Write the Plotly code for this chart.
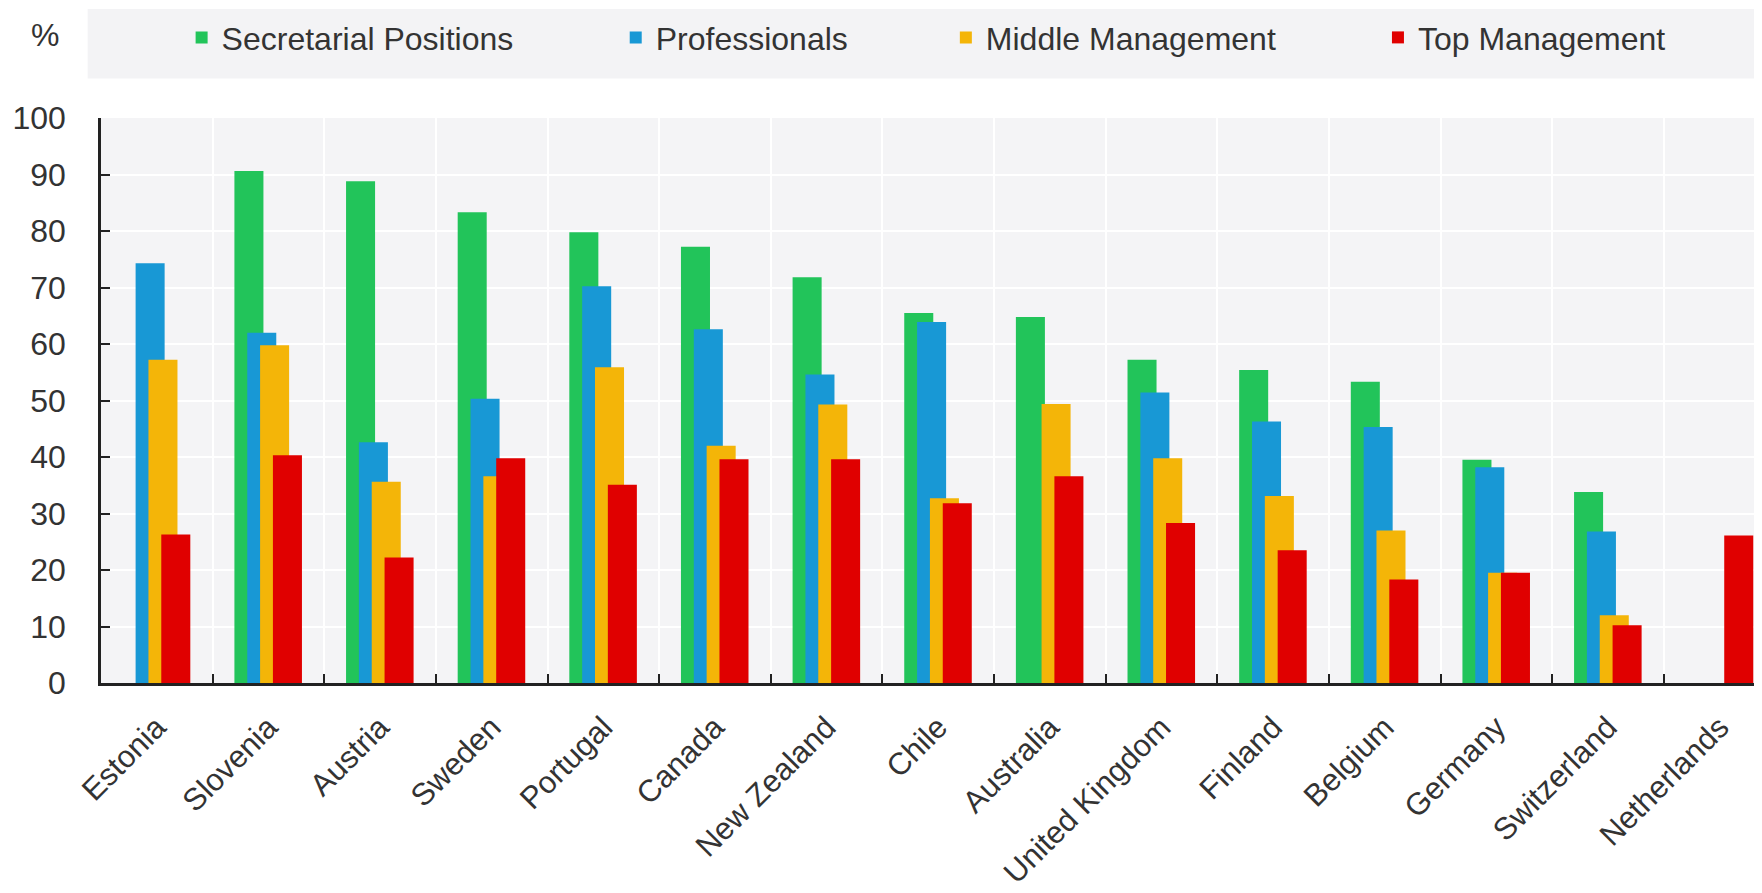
import plotly.graph_objects as go

countries = ["Estonia", "Slovenia", "Austria", "Sweden", "Portugal", "Canada",
             "New Zealand", "Chile", "Australia", "United Kingdom", "Finland",
             "Belgium", "Germany", "Switzerland", "Netherlands"]

secretarial = [None, 90.6, 88.8, 83.3, 79.8, 77.2, 71.8, 65.5, 64.8, 57.2, 55.4, 53.3, 39.5, 33.8, None]
professionals = [74.3, 62.0, 42.6, 50.3, 70.2, 62.6, 54.6, 63.9, None, 51.4, 46.3, 45.3, 38.2, 26.8, None]
middle_mgmt = [57.2, 59.8, 35.6, 36.6, 55.9, 42.0, 49.3, 32.7, 49.4, 39.8, 33.1, 27.0, 19.5, 12.0, None]
top_mgmt = [26.3, 40.3, 22.2, 39.8, 35.1, 39.6, 39.6, 31.8, 36.6, 28.3, 23.5, 18.3, 19.5, 10.2, 26.1]

series_names = ["Secretarial Positions", "Professionals", "Middle Management", "Top Management"]
series_values = [secretarial, professionals, middle_mgmt, top_mgmt]
colors = ["#22c45a", "#1898d5", "#f4b508", "#e00000"]
offsets = [-0.305, -0.19, -0.075, 0.04]
legend_ids = ["legend", "legend2", "legend3", "legend4"]
legend_x = [0.0483, 0.3084, 0.5062, 0.7651]

FONT = "Liberation Sans, Arial, sans-serif"
TXT = "#333333"

fig = go.Figure()
for name, vals, col, off, lid in zip(series_names, series_values, colors, offsets, legend_ids):
    fig.add_trace(go.Bar(
        x=countries, y=vals, name=name,
        marker=dict(color=col, line=dict(width=0)),
        width=0.26, offset=off, legend=lid,
    ))

legend_common = dict(orientation="h", yanchor="middle", y=1.1423, xanchor="left",
                     bgcolor="rgba(0,0,0,0)", borderwidth=0,
                     font=dict(family=FONT, size=32, color=TXT))
layout_legends = {}
for lid, lx in zip(legend_ids, legend_x):
    layout_legends[lid] = dict(legend_common, x=lx)

fig.update_layout(
    width=1762, height=893,
    margin=dict(l=93, r=0, t=110, b=218),
    paper_bgcolor="white",
    plot_bgcolor="#f4f4f6",
    barmode="overlay",
    showlegend=True,
    font=dict(family=FONT, size=31, color=TXT),
    **layout_legends,
)

fig.update_xaxes(
    type="category", range=[-0.5, 14.45],
    tickson="boundaries", ticks="inside", ticklen=9, tickwidth=2, tickcolor="#222222",
    showline=True, linecolor="#222222", linewidth=2.5,
    showgrid=True, gridcolor="white", gridwidth=2,
    tickangle=-45, tickfont=dict(family=FONT, size=31, color=TXT),
    ticklabelstandoff=11,
)
fig.update_yaxes(
    range=[0, 100], dtick=10, tick0=0,
    ticks="inside", ticklen=9, tickwidth=2, tickcolor="#222222",
    showline=True, linecolor="#222222", linewidth=2.5,
    showgrid=True, gridcolor="white", gridwidth=2,
    zeroline=False,
    tickfont=dict(family=FONT, size=32, color=TXT),
    ticklabelstandoff=26,
)

# legend band background
fig.add_shape(type="rect", xref="paper", yref="paper",
              x0=-0.008, x1=1.0, y0=1.070, y1=1.193,
              fillcolor="#f3f3f5", line=dict(width=0), layer="below")

fig.add_annotation(text="%", xref="paper", yref="paper", x=-0.0338, y=1.147,
                   xanchor="center", yanchor="middle", showarrow=False,
                   font=dict(family=FONT, size=32, color=TXT))

fig.write_html("out.html")
